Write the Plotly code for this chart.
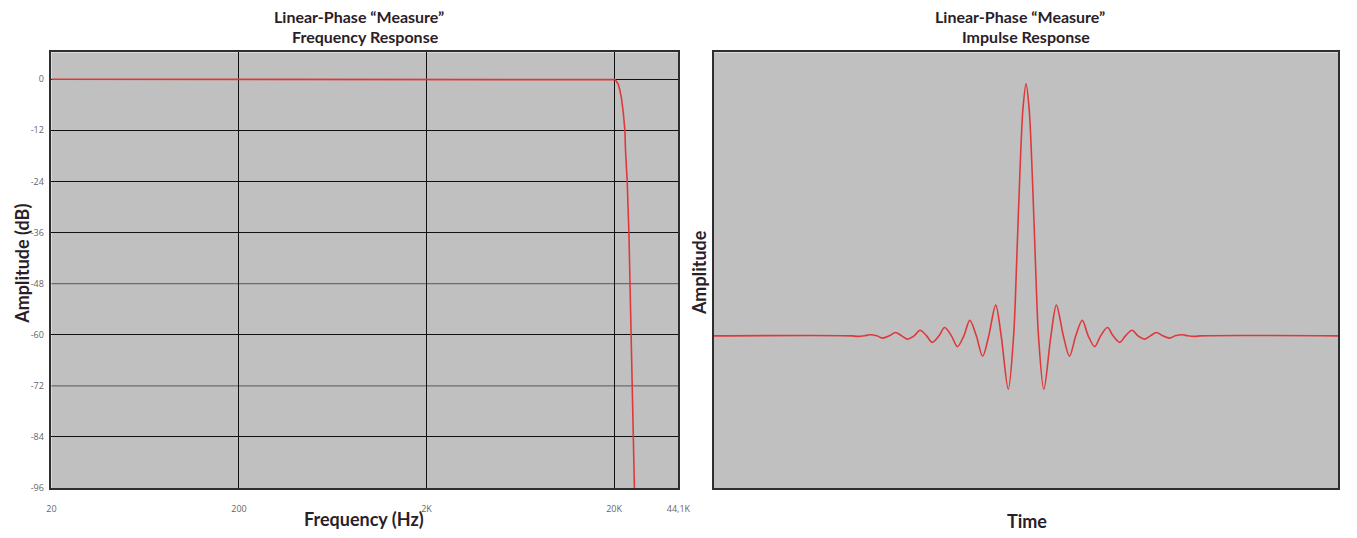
import math
import plotly.graph_objects as go

# ---------------- data ----------------
# Left: frequency response (Hz, dB)
freq_hz = [20, 200, 2000, 10000, 19000, 20000, 20200, 20440, 20700, 21070, 21500,
           21930, 22380, 22850, 23000, 23500, 24000, 24300, 24660, 24960, 25280,
           25680, 26000]
amp_db = [0, 0, 0, 0, 0, 0, -0.1, -0.3, -0.6, -1.2, -2.6,
          -4.6, -7.7, -12, -16.3, -24, -36, -48, -60, -72, -84,
          -96, -102]

freq_ticks = [20, 200, 2000, 20000, 44100]
freq_tick_labels = ["20", "200", "2K", "20K", "44,1K"]
db_ticks = [0, -12, -24, -36, -48, -60, -72, -84, -96]
db_tick_labels = ["0", "-12", "-24", "-36", "-48", "-60", "-72", "-84", "-96"]
db_grid_black = [0, -12, -24, -36, -60, -84, -96]
db_grid_grey = [-48, -72]

# Right: impulse response (time in samples, normalised amplitude)
time_s = [-25.1, -14, -13.6, -13, -12.6, -12, -11.55, -11, -10.5, -10, -9.56, -9,
          -8.53, -8, -7.54, -7, -6.55, -6, -5.52, -5, -4.52, -4, -3.49, -3,
          -2.44, -2, -1.43, -1, -0.75, -0.5, -0.25, 0,
          0.25, 0.5, 0.75, 1, 1.43, 2, 2.44, 3, 3.49, 4, 4.52, 5, 5.52, 6,
          6.55, 7, 7.54, 8, 8.53, 9, 9.56, 10, 10.5, 11, 11.55, 12, 12.6, 13,
          13.6, 14, 25.1]
amplitude = [0, 0, -0.002, 0, 0.004, 0, -0.009, 0, 0.013, 0, -0.013, 0,
             0.022, 0, -0.026, 0, 0.033, 0, -0.043, 0, 0.062, 0, -0.081, 0,
             0.122, 0, -0.212, 0, 0.30, 0.64, 0.90, 1.0,
             0.90, 0.64, 0.30, 0, -0.212, 0, 0.122, 0, -0.081, 0, 0.062, 0, -0.043, 0,
             0.033, 0, -0.026, 0, 0.022, 0, -0.013, 0, 0.013, 0, -0.009, 0, 0.004, 0,
             -0.002, 0, 0]

# ---------------- style ----------------
RED = "#e0383a"
BG = "#c0c0c0"
BORDER = "#2e2e2e"
TITLE_C = "#2a1e28"
TICK_C = "#666666"
TITLE_FONT = "Lato"

W, H = 1357, 538
def px(x):
    return x / W
def py(y):
    return 1 - y / H

left_dom = [px(47), px(682)]
right_dom = [px(718), px(1350)]
y_dom = [py(493.5), py(53)]

fig = go.Figure()
fig.add_trace(go.Scatter(x=freq_hz, y=amp_db, mode="lines",
                         line=dict(color=RED, width=1.6),
                         xaxis="x", yaxis="y", showlegend=False, hoverinfo="skip"))
fig.add_trace(go.Scatter(x=time_s, y=amplitude, mode="lines",
                         line=dict(color=RED, width=1.6, shape="spline", smoothing=0.9),
                         xaxis="x2", yaxis="y2", showlegend=False, hoverinfo="skip"))

axis_common = dict(showline=True, linecolor=BORDER, linewidth=1.5, mirror=True,
                   zeroline=False)

fig.update_layout(
    width=W, height=H, autosize=False,
    margin=dict(l=0, r=0, t=0, b=0),
    paper_bgcolor="white",
    plot_bgcolor=BG,
    showlegend=False,
    xaxis=dict(domain=left_dom, anchor="y", type="log",
               range=[math.log10(20), math.log10(44100)],
               tickmode="array", tickvals=freq_ticks, ticktext=freq_tick_labels,
               showgrid=True, gridcolor="#111111", gridwidth=1.3,
               ticks="outside", ticklen=11, tickcolor="rgba(0,0,0,0)",
               tickfont=dict(family="Open Sans", size=9, color=TICK_C),
               **axis_common),
    yaxis=dict(domain=y_dom, anchor="x", range=[-96, 6.3],
               tickmode="array", tickvals=db_ticks, ticktext=db_tick_labels,
               showgrid=False,
               minor=dict(tickmode="array", tickvals=db_grid_black, showgrid=True,
                          gridcolor="#111111", gridwidth=1.3, ticks=""),
               ticks="outside", ticklen=4, tickcolor="rgba(0,0,0,0)",
               tickfont=dict(family="Open Sans", size=9, color=TICK_C),
               **axis_common),
    xaxis2=dict(domain=right_dom, anchor="y2", range=[-25.1, 25.1],
                showgrid=False, showticklabels=False, ticks="", **axis_common),
    yaxis2=dict(domain=y_dom, anchor="x2", range=[-0.604, 1.125],
                showgrid=False, showticklabels=False, ticks="", **axis_common),
)

shapes = []
for v in db_grid_grey:
    shapes.append(dict(type="line", xref="x domain", x0=0, x1=1, yref="y", y0=v, y1=v,
                       line=dict(color="#6c6c6c", width=1.3), layer="below"))
fig.update_layout(shapes=shapes)

bold = dict(family=TITLE_FONT, size=16, color=TITLE_C, weight="bold")
ann = []
def add_text(text, x, y, size=16, angle=0):
    f = dict(bold)
    f["size"] = size
    ann.append(dict(text=text, x=px(x), y=py(y), xref="paper", yref="paper",
                    showarrow=False, xanchor="center", yanchor="middle",
                    textangle=angle, font=f))

add_text("Linear-Phase “Measure”", 358, 17)
add_text("Frequency Response", 365, 37)
add_text("Linear-Phase “Measure”", 1028, 17)
add_text("Impulse Response", 1034, 37)
add_text("Frequency (Hz)", 364, 525, size=18)
add_text("Time", 1035, 527, size=18)
add_text("Amplitude (dB)", 17, 267, size=18, angle=-90)
add_text("Amplitude", 703, 276, size=18, angle=-90)
fig.update_layout(annotations=ann)

fig.write_html("out.html",
               config={"responsive": False, "displayModeBar": False},
               post_script="document.body.style.margin='0';document.body.style.overflow='hidden';")
